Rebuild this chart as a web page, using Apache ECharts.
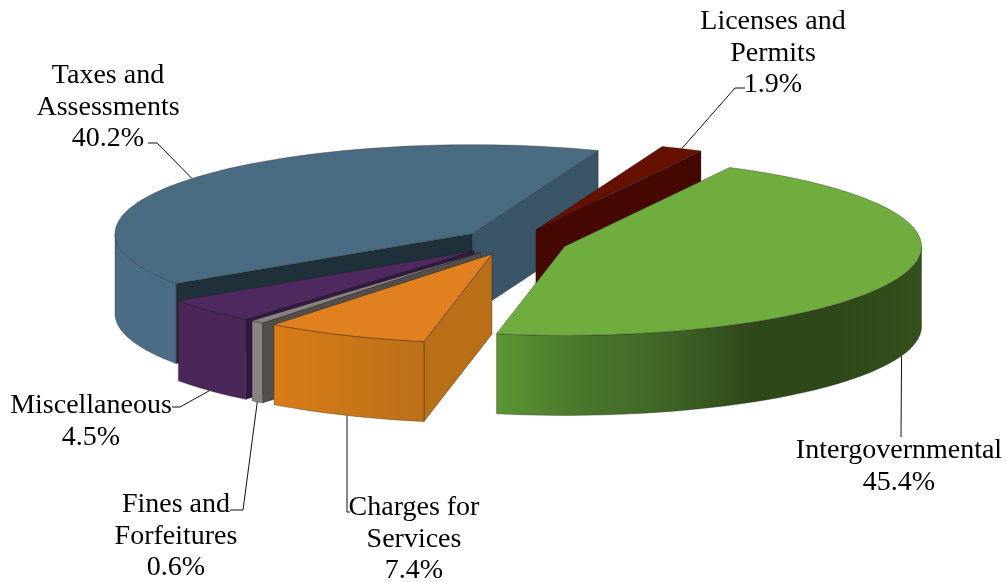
<!DOCTYPE html>
<html>
<head>
<meta charset="utf-8">
<style>html,body{margin:0;padding:0;background:#fff}#chart{width:1007px;height:582px}</style>
<script src="https://cdn.jsdelivr.net/npm/echarts@6/dist/echarts.min.js"></script>
</head>
<body>
<div id="chart"></div>
<script>
// clockwise from the first slice, in percent
let names = ['Licenses and Permits', 'Intergovernmental', 'Charges for Services', 'Fines and Forfeitures', 'Miscellaneous', 'Taxes and Assessments']
let shares = [1.9, 45.4, 7.4, 0.6, 4.5, 40.2]
let nameLines = [['Licenses and', 'Permits'], ['Intergovernmental'], ['Charges for', 'Services'], ['Fines and', 'Forfeitures'], ['Miscellaneous'], ['Taxes and', 'Assessments']]

// painter's order, back slices first
let drawOrder = [1, 2, 5, 4, 3, 0]

let topColor = ['#661000', '#70ad3f', '#e0801e', '#8a8480', '#4e2a60', '#4a6c82']
let outerColor = [
  ['#4a0a00', '#4a0a00'],
  ['#5c9634', '#4a772c', '#3f6526', '#2f4819', '#2f4819', '#34501c'],
  ['#d97b18', '#c97618', '#bc7018'],
  ['#8a8480', '#8a8480'],
  ['#4b2759', '#4b2759'],
  ['#4a6c84', '#4a6c84']
]
let startWall = ['#4a0a00', '#2f4819', '#b96e18', '#544e4a', '#301a44', '#1f303a']
let endWall = ['#450800', '#2f4819', '#b96e18', '#544e4a', '#301a44', '#3a5468']

let cx = 514, cy = 242, rx = 357, ry = 89, depth = 80, explode = 0.15
let firstAngle = 20.7

// label centre x, first line y, and the elbow of the leader line
let labelX = [773, 899, 414, 176, 91, 108]
let labelY = [22, 451, 508, 505, 406, 76]
let lineGap = 31.3
let leaderEnd = [[745, 88, 735, 88], [901, 437, 901, 437], [350, 512, 347, 512], [230, 510, 243, 510], [172, 407, 180, 407], [148, 143, 157, 143]]
// where along the slice's sweep the leader touches the rim
let leaderAt = [0.5, 0.5, 0.487, 0.5, 0.5, 0.5]

function rad (deg) { return deg * Math.PI / 180 }

function arcPoints (ox, oy, from, to, drop) {
  let pts = []
  let n = Math.max(2, Math.ceil(Math.abs(to - from) / 2))
  for (let i = 0; i <= n; i++) {
    let a = rad(from + (to - from) * i / n)
    pts.push([ox + rx * Math.sin(a), oy - ry * Math.cos(a) + drop])
  }
  return pts
}

function renderSlice (params, api) {
  let i = params.dataIndex
  let before = 0
  for (let k = 0; k < i; k++) before += shares[k]
  let from = firstAngle + before * 3.6
  let to = from + api.value(0) * 3.6
  let mid = (from + to) / 2
  let ox = cx + rx * Math.sin(rad(mid)) * explode
  let oy = cy - ry * Math.cos(rad(mid)) * explode
  let z = drawOrder[i] * 10 + 1
  let line = { stroke: 'rgba(30,25,20,0.55)', lineWidth: 0.6 }
  let children = []

  // straight cut walls
  let wall = function (deg, color) {
    let a = rad(deg)
    let rimX = ox + rx * Math.sin(a), rimY = oy - ry * Math.cos(a)
    children.push({
      type: 'polygon', z2: z,
      shape: { points: [[ox, oy], [rimX, rimY], [rimX, rimY + depth], [ox, oy + depth]] },
      style: Object.assign({ fill: color }, line)
    })
  }
  if (Math.sin(rad(from)) < 0) wall(from, startWall[i])
  if (Math.sin(rad(to)) > 0) wall(to, endWall[i])

  // outer wall, only the part that faces the viewer
  let a0 = Math.max(from, 90), a1 = Math.min(to, 270)
  if (a1 > a0) {
    let stops = outerColor[i].map(function (c, k) { return { offset: k / (outerColor[i].length - 1), color: c } })
    // the left end of the wall is the far end of the sweep
    let grad = new echarts.graphic.LinearGradient(1, 0, 0, 0, stops)
    if (a0 > 180 || i === 1) grad = new echarts.graphic.LinearGradient(0, 0, 1, 0, stops)
    children.push({
      type: 'polygon', z2: z + 1,
      shape: { points: arcPoints(ox, oy, a0, a1, 0).concat(arcPoints(ox, oy, a1, a0, depth)) },
      style: Object.assign({ fill: grad }, line)
    })
  }

  // top face
  children.push({
    type: 'polygon', z2: z + 2,
    shape: { points: [[ox, oy]].concat(arcPoints(ox, oy, from, to, 0)) },
    style: Object.assign({ fill: topColor[i] }, line)
  })

  // leader from the slice rim to the label
  let at = from + (to - from) * leaderAt[i]
  let front = Math.cos(rad(at)) < 0
  let ax = ox + rx * Math.sin(rad(at))
  let ay = oy - ry * Math.cos(rad(at)) + (front ? depth : 0)
  let le = leaderEnd[i]
  children.push({
    type: 'polyline', z2: 100,
    shape: { points: [[ax, ay], [le[2], le[3]], [le[0], le[1]]] },
    style: { stroke: '#111', lineWidth: 1, fill: 'none' }
  })

  // label text
  nameLines[i].concat([api.value(0).toFixed(1) + '%']).forEach(function (t, k) {
    children.push({
      type: 'text', z2: 101,
      style: {
        x: labelX[i], y: labelY[i] + k * lineGap, text: t,
        fill: '#000', font: '28px "Liberation Serif", serif',
        align: 'center', verticalAlign: 'middle'
      }
    })
  })
  return { type: 'group', children: children }
}

let myChart = echarts.init(document.getElementById('chart'))
myChart.setOption({
  animation: false,
  backgroundColor: '#fff',
  series: [{
    type: 'custom',
    coordinateSystem: 'none',
    silent: true,
    renderItem: renderSlice,
    data: shares.map(function (v, i) { return { name: names[i], value: [v] } })
  }]
})
</script>
</body>
</html>
